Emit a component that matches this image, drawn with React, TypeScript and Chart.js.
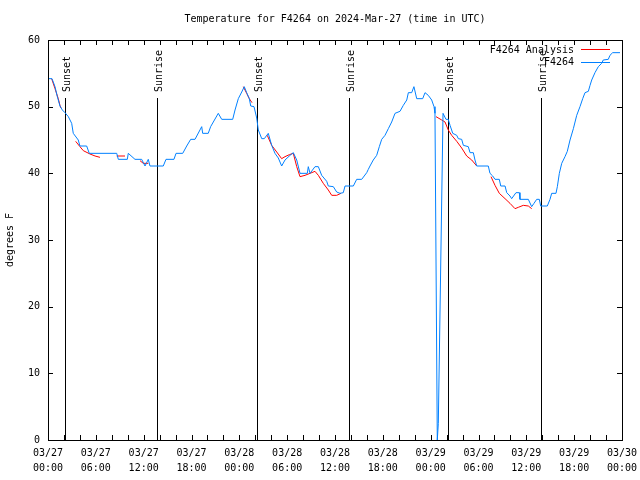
import React, { useEffect, useRef } from "react";
import { Chart, registerables } from "chart.js";

Chart.register(...registerables);

const TITLE = "Temperature for F4264 on 2024-Mar-27 (time in UTC)";
const Y_TITLE = "degrees F";
const DAYS = ["03/27", "03/28", "03/29", "03/30"];
const SERIES_OBS = "F4264";
const SERIES_ANA = "F4264 Analysis";

// hours since 03/27 00:00 UTC
const obsHours = [
  0, 0.5, 0.88, 1.17, 1.5, 1.8, 2.13, 2.55, 2.97, 3.17, 3.8, 4.0, 4.85, 5.18, 8.62, 8.82, 9.95, 10.07,
  10.91, 11.75, 12.17, 12.58, 12.79, 14.46, 14.8, 15.8, 16.06, 16.9, 17.4, 17.9, 18.44, 19.28, 19.4,
  20.1, 20.4, 21.36, 21.79, 23.17, 23.46, 23.87, 24.3, 24.62, 24.92, 25.25, 25.43, 25.84, 26.18, 26.38,
  26.81, 27.13, 27.63, 28.06, 28.47, 28.89, 29.31, 29.73, 30.36, 30.77, 31.2, 31.61, 32.53, 32.65,
  32.87, 33.49, 33.91, 34.33, 34.96, 35.16, 35.79, 36.21, 36.63, 37.04, 37.26, 38.3, 38.72, 39.35,
  39.98, 40.18, 40.39, 40.8, 41.23, 41.56, 41.86, 42.27, 42.69, 43.11, 43.53, 44.15, 44.57, 45.0,
  45.2, 45.62, 45.9, 46.25, 47.0, 47.29, 47.7, 48.13, 48.42, 48.54, 48.83, 48.96, 49.55, 49.92,
  50.21, 50.43, 50.77, 51.27, 51.47, 51.89, 52.1, 52.72, 52.94, 53.35, 53.56, 53.78, 55.23, 55.44,
  55.78, 56.07, 56.61, 56.79, 57.33, 57.54, 57.95, 58.16, 58.7, 59.12, 59.2, 60.25, 60.67, 60.96,
  61.3, 61.63, 61.8, 62.63, 62.97, 63.18, 63.72, 63.89, 64.14, 64.44, 64.85, 65.14, 65.48, 65.9,
  66.32, 66.73, 67.07, 67.36, 67.78, 67.99, 68.2, 68.61, 69.03, 69.45, 69.65, 70.28, 70.49, 70.83,
  71.75,
];
const obsTemps = [
  54.2, 54.2, 53.0, 51.5, 50.1, 49.5, 49.1, 48.5, 47.5, 46.0, 45.0, 44.1, 44.1, 43.0, 43.0, 42.1, 42.1, 43.0,
  42.1, 42.1, 41.1, 42.1, 41.1, 41.1, 42.1, 42.1, 43.0, 43.0, 44.1, 45.1, 45.1, 47.0, 46.0,
  46.0, 47.0, 49.0, 48.1, 48.1, 49.5, 51.2, 52.2, 53.0, 52.1, 51.2, 50.1, 50.0, 48.3, 46.5,
  45.2, 45.2, 46.0, 44.2, 43.0, 42.3, 41.1, 42.0, 42.7, 43.1, 42.0, 40.0, 40.0, 41.0,
  40.0, 41.0, 41.0, 39.7, 38.8, 38.1, 38.0, 37.2, 37.0, 37.1, 38.1, 38.1, 39.1, 39.1,
  40.1, 40.6, 41.1, 42.0, 42.7, 44.0, 45.1, 45.7, 46.7, 47.7, 49.0, 49.3, 50.2, 51.0,
  52.1, 52.1, 53.0, 51.2, 51.2, 52.1, 51.7, 51.0, 50.0, 49.0, 0.0, 2.5, 49.0, 48.1,
  48.1, 47.2, 46.0, 45.7, 45.2, 45.1, 44.2, 44.0, 43.1, 43.1, 42.0, 41.1, 41.1, 40.0,
  39.6, 39.1, 39.1, 38.1, 38.1, 37.1, 36.6, 36.2, 37.1, 37.1, 36.1, 36.1, 35.0, 35.5,
  36.1, 36.1, 35.1, 35.1, 36.1, 37.0, 37.0, 38.0, 40.0, 41.5, 42.5, 43.3, 45.0, 46.7,
  48.7, 50.0, 51.2, 52.1, 52.3, 53.2, 54.0, 55.1, 56.0, 56.5, 57.0, 57.1, 57.7, 58.1,
  58.1,
];

// analysis series; null = gap
const anaHours = [
  0.46, 0.88, 1.29, 1.5, 1.63, 2.5,
  3.47, 4.01, 4.43, 5.27, 5.9, 6.52, 7.5,
  8.62, 9.66, 10.5,
  11.54, 11.95, 12.58, 18,
  24.5, 24.92, 25.25, 25.59, 26.5,
  27.5, 28.06, 28.69, 29.31, 29.73, 30.27, 30.77, 31.2, 31.61, 32.24, 32.87, 33.49, 33.91, 34.53,
  35.16, 35.59, 36.21, 36.75, 42,
  48.67, 49.39, 49.8, 50.21, 50.64, 51.27, 51.89, 52.52, 53.15, 53.78, 54.5,
  55.57, 56.07, 56.61, 57.33, 57.95, 58.58, 58.99, 59.62, 60.25, 60.67,
];
const anaTemps = [
  54.2, 52.7, 51.2, 50.2, 49.8, null,
  44.8, 44.0, 43.4, 42.9, 42.6, 42.4, null,
  42.6, 42.6, null,
  41.9, 41.5, 41.5, null,
  53.0, 52.0, 51.2, 50.6, null,
  45.7, 44.2, 43.2, 42.2, 42.5, 42.8, 43.0, 41.0, 39.5, 39.7, 40.0, 40.3, 39.7, 38.5,
  37.5, 36.7, 36.7, 37.0, null,
  48.5, 48.0, 47.7, 46.5, 45.7, 44.8, 43.8, 42.6, 42.0, 41.1, null,
  39.5, 38.2, 37.0, 36.2, 35.5, 34.7, 34.9, 35.2, 35.1, 34.7,
];

const sunHours = [2.13, 13.67, 26.2, 37.76, 50.18, 61.84];
const sunLabels = ["Sunset", "Sunrise", "Sunset", "Sunrise", "Sunset", "Sunrise"];
const sunLineTop = 51.3;

const FONT = "10px 'DejaVu Sans Mono', 'Liberation Mono', monospace";
const RED = "#ff0000";
const BLUE = "rgb(0,128,255)";

const decorPlugin = {
  id: "decor",
  beforeDatasetsDraw(chart: any) {
    const ctx = chart.ctx;
    const xs = chart.scales.x;
    const ys = chart.scales.y;
    const bottom = chart.chartArea.bottom;
    const topY = ys.getPixelForValue(sunLineTop);
    ctx.save();
    ctx.strokeStyle = "#000";
    ctx.lineWidth = 1;
    ctx.fillStyle = "#000";
    ctx.font = FONT;
    sunHours.forEach((h, i) => {
      const x = Math.round(xs.getPixelForValue(h)) + 0.5;
      ctx.beginPath();
      ctx.moveTo(x, topY);
      ctx.lineTo(x, bottom);
      ctx.stroke();
      ctx.save();
      ctx.translate(x + 1.5, topY - 6);
      ctx.rotate(-Math.PI / 2);
      ctx.textAlign = "left";
      ctx.textBaseline = "middle";
      ctx.fillText(sunLabels[i], 0, 0);
      ctx.restore();
    });
    ctx.restore();
  },
  afterDraw(chart: any) {
    const ctx = chart.ctx;
    const { left, right, top, bottom } = chart.chartArea;
    const xs = chart.scales.x;
    const ys = chart.scales.y;
    ctx.save();
    ctx.strokeStyle = "#000";
    ctx.lineWidth = 1;
    ctx.strokeRect(Math.round(left) + 0.5, Math.round(top) + 0.5, Math.round(right - left), Math.round(bottom - top));
    ctx.beginPath();
    for (let h = 0; h <= 72; h += 2) {
      const x = Math.round(xs.getPixelForValue(h)) + 0.5;
      ctx.moveTo(x, bottom);
      ctx.lineTo(x, bottom - 5);
      ctx.moveTo(x, top);
      ctx.lineTo(x, top + 5);
    }
    for (let v = 0; v <= 60; v += 10) {
      const y = Math.round(ys.getPixelForValue(v)) + 0.5;
      ctx.moveTo(left, y);
      ctx.lineTo(left + 5, y);
      ctx.moveTo(right, y);
      ctx.lineTo(right - 5, y);
    }
    ctx.stroke();
    ctx.fillStyle = "#000";
    ctx.font = FONT;
    ctx.textAlign = "center";
    ctx.textBaseline = "middle";
    ctx.fillText(TITLE, (left + right) / 2, 19);
    ctx.save();
    ctx.translate(10, (top + bottom) / 2);
    ctx.rotate(-Math.PI / 2);
    ctx.fillText(Y_TITLE, 0, 0);
    ctx.restore();
    const entries = [
      { label: SERIES_ANA, color: RED, y: 50 },
      { label: SERIES_OBS, color: BLUE, y: 62.5 },
    ];
    entries.forEach((e) => {
      ctx.fillStyle = "#000";
      ctx.textAlign = "right";
      ctx.textBaseline = "middle";
      ctx.fillText(e.label, 574, e.y);
      ctx.strokeStyle = e.color;
      ctx.beginPath();
      ctx.moveTo(581, Math.round(e.y - 1) + 0.5);
      ctx.lineTo(610, Math.round(e.y - 1) + 0.5);
      ctx.stroke();
    });
    ctx.restore();
  },
};

export default function App() {
  const canvasRef = useRef<HTMLCanvasElement | null>(null);

  useEffect(() => {
    const canvas = canvasRef.current;
    if (!canvas) return;
    const obsData = obsHours.map((h, i) => ({ x: h, y: obsTemps[i] }));
    const anaData = anaHours.map((h, i) => ({ x: h, y: anaTemps[i] }));
    const chart = new Chart(canvas, {
      type: "line",
      data: {
        datasets: [
          {
            label: SERIES_OBS,
            data: obsData,
            borderColor: BLUE,
            backgroundColor: BLUE,
            borderWidth: 1,
            pointRadius: 0,
            tension: 0,
          },
          {
            label: SERIES_ANA,
            data: anaData,
            borderColor: RED,
            backgroundColor: RED,
            borderWidth: 1,
            pointRadius: 0,
            tension: 0,
            spanGaps: false,
          },
        ],
      },
      options: {
        animation: false,
        responsive: false,
        devicePixelRatio: 1,
        layout: { padding: { top: 40, right: 18, left: 0, bottom: 0 } },
        plugins: {
          legend: { display: false },
          title: { display: false },
          tooltip: { enabled: false },
        },
        scales: {
          x: {
            type: "linear",
            min: 0,
            max: 72,
            grid: { display: false, drawTicks: false },
            border: { display: false },
            afterFit: (s: any) => {
              s.height = 40;
              s.paddingLeft = 0;
              s.paddingRight = 0;
            },
            ticks: {
              stepSize: 6,
              autoSkip: false,
              maxRotation: 0,
              padding: 6,
              color: "#000",
              font: { family: "'DejaVu Sans Mono', 'Liberation Mono', monospace", size: 10, lineHeight: 1.5 },
              callback: (v: any) => {
                const h = Number(v);
                const d = DAYS[Math.floor(h / 24)];
                const hh = String(h % 24).padStart(2, "0") + ":00";
                return [d, hh];
              },
            },
          },
          y: {
            min: 0,
            max: 60,
            grid: { display: false, drawTicks: false },
            border: { display: false },
            afterFit: (s: any) => {
              s.width = 48;
              s.paddingTop = 0;
              s.paddingBottom = 0;
            },
            ticks: {
              stepSize: 10,
              padding: 8,
              color: "#000",
              font: { family: "'DejaVu Sans Mono', 'Liberation Mono', monospace", size: 10 },
            },
          },
        },
      },
      plugins: [decorPlugin],
    });
    return () => chart.destroy();
  }, []);

  return (
    <div style={{ position: "absolute", left: 0, top: 0, width: 640, height: 480, background: "#fff" }}>
      <canvas ref={canvasRef} width={640} height={480} style={{ display: "block" }} />
    </div>
  );
}
